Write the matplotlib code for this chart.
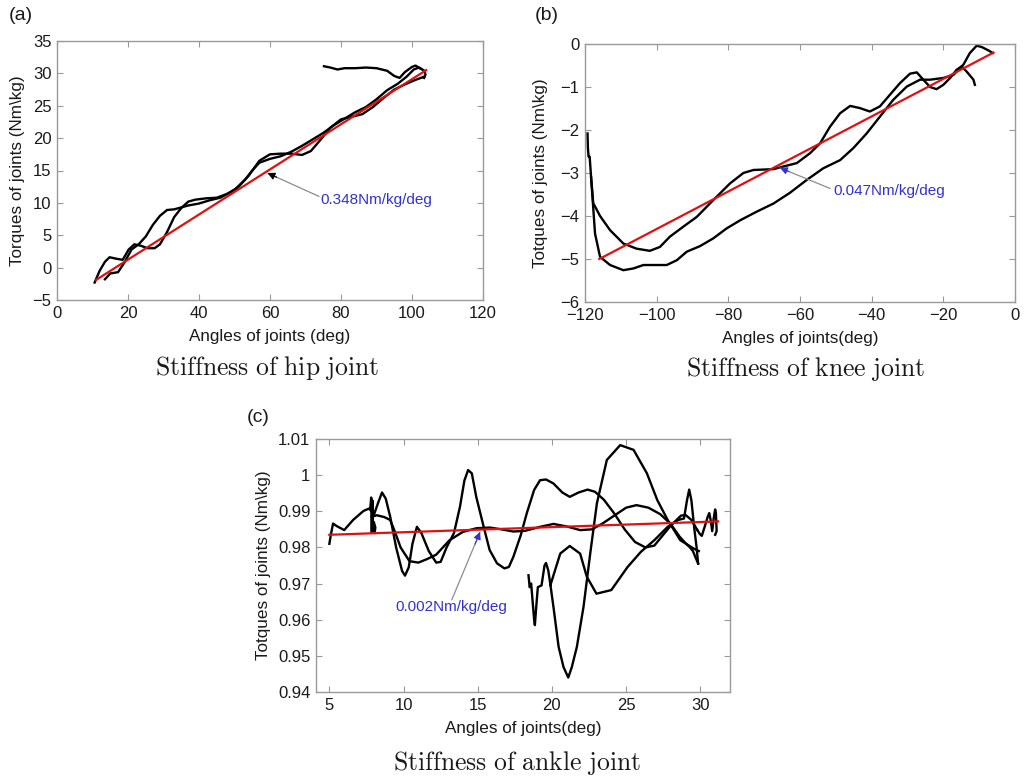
import matplotlib
matplotlib.use("Agg")
import matplotlib.pyplot as plt
from matplotlib.ticker import FuncFormatter

# ---- (a) hip joint: torque vs angle (two gait branches + top return) ----
hip_a_x = [10.6, 12, 13.5, 14.8, 16.5, 18.5, 20.2, 21.8, 23.5, 25.5, 27.5, 29, 31, 33, 35, 37, 39, 42, 45,
           48, 51, 54, 57, 60, 63, 66, 69, 71.5, 74, 77, 80, 83, 86, 89, 92, 95, 98, 101, 103.5]
hip_a_y = [-2.3, -0.5, 0.9, 1.6, 1.4, 1.2, 2.8, 3.6, 3.4, 3.0, 3.0, 3.6, 5.5, 7.8, 9.2, 10.2, 10.5, 10.7, 10.8,
           11.4, 12.4, 14.2, 16.5, 17.5, 17.6, 17.6, 17.4, 18.0, 19.6, 21.6, 22.9, 23.3, 23.7, 24.8, 26.2, 27.5,
           28.3, 29.0, 29.5]
hip_b_x = [13.5, 15, 17.2, 19, 21, 23, 25, 27, 29, 31, 33, 35, 37, 40, 43, 46, 50, 53, 55, 57, 60, 63, 66,
           69, 72, 75, 78, 81, 84, 87, 90, 93, 96, 98.5, 100.5, 102, 103.5, 103.8, 103.4]
hip_b_y = [-1.8, -0.9, -0.7, 0.8, 2.8, 3.6, 4.8, 6.6, 8.0, 8.9, 9.0, 9.3, 9.6, 9.9, 10.4, 10.8, 12.0, 13.6,
           15.0, 16.2, 16.8, 17.2, 17.9, 18.8, 19.8, 20.8, 22.0, 23.0, 24.0, 24.8, 26.0, 27.4, 28.4, 29.5,
           30.6, 30.9, 30.4, 29.8, 29.3]
hip_c_x = [102.5, 101, 100, 98, 96.5, 95, 93, 90, 87, 84, 81, 79, 77, 75.2]
hip_c_y = [30.7, 31.2, 31.0, 30.2, 29.3, 29.6, 30.4, 30.8, 30.9, 30.8, 30.8, 30.6, 30.9, 31.1]
hip_fit_x = [11, 104]
hip_fit_y = [-1.9, 30.5]

# ---- (b) knee joint ----
knee_a_x = [-119.3, -119.2, -119.0, -118.7, -118.3, -117.7, -115.8, -113, -109.3, -105.6, -101.9, -99.1,
            -96.3, -92.6, -88.8, -84.2, -79.5, -75.8, -73, -67.4, -64.7, -60.9, -57.2, -54.4, -51.6,
            -48.8, -46, -43.3, -40.5, -37.7, -34.9, -32.1, -29.3, -27.4, -25.6, -23.7, -21.9, -20,
            -18.1, -16.3, -14.9, -13.5, -11.6, -11.2]
knee_a_y = [-2.08, -2.4, -2.62, -2.62, -3.1, -3.7, -4.0, -4.33, -4.64, -4.76, -4.81, -4.72, -4.48, -4.25,
            -4.02, -3.63, -3.24, -3.0, -2.93, -2.91, -2.85, -2.77, -2.54, -2.31, -1.92, -1.61, -1.44,
            -1.49, -1.57, -1.45, -1.18, -0.91, -0.69, -0.66, -0.83, -1.0, -1.05, -0.95, -0.79, -0.6,
            -0.52, -0.64, -0.83, -0.95]
knee_b_x = [-118.3, -117.2, -115.8, -113, -109.3, -106.5, -103.7, -100.9, -97.2, -94.4, -91.6, -87.9,
            -84.2, -80.5, -76.7, -72.1, -67.4, -62.8, -58.1, -53.5, -48.8, -45.1, -41.4, -37.7, -34,
            -30.2, -26.5, -23.7, -20, -17.2, -14.4, -12.6, -10.7, -9.3, -7.4, -6.2]
knee_b_y = [-3.1, -4.41, -4.95, -5.14, -5.26, -5.22, -5.14, -5.14, -5.14, -5.03, -4.83, -4.70, -4.52,
            -4.29, -4.1, -3.9, -3.71, -3.46, -3.16, -2.89, -2.7, -2.42, -2.08, -1.69, -1.3, -0.99,
            -0.83, -0.83, -0.79, -0.72, -0.48, -0.21, -0.04, -0.07, -0.15, -0.21]
knee_fit_x = [-116, -6]
knee_fit_y = [-5.0, -0.2]

# ---- (c) ankle joint ----
ank_1_x = [5.0, 5.1, 5.25, 5.5, 6.0, 6.6, 7.3, 7.7, 8.0, 8.3, 8.55, 8.8, 9.1, 9.5, 9.9, 10.1, 10.35, 10.6,
           10.9, 11.2, 11.7, 12.2, 12.5, 12.9, 13.4, 13.8, 14.1, 14.35, 14.6, 14.9, 15.4, 15.8, 16.3,
           16.8, 17.1, 17.4, 17.9, 18.3, 18.8, 19.2, 19.6, 20.1, 20.7, 21.2, 21.8, 22.4, 22.9, 23.5,
           24.2, 24.9, 25.6, 26.3, 26.9, 27.4, 28.0, 28.7, 29.0, 29.4, 29.8]
ank_1_y = [0.981, 0.9835, 0.9866, 0.9859, 0.9848, 0.9876, 0.9901, 0.9908, 0.9890, 0.9925, 0.9952,
           0.9935, 0.9885, 0.9800, 0.9735, 0.9722, 0.9745, 0.9810, 0.9857, 0.9840, 0.9790, 0.9758,
           0.9760, 0.9800, 0.9840, 0.9912, 0.9985, 1.0014, 1.0005, 0.9940, 0.9857, 0.9793, 0.9756,
           0.9742, 0.9746, 0.9774, 0.9834, 0.9894, 0.9959, 0.9986, 0.9988, 0.9977, 0.9952, 0.9940,
           0.9952, 0.9960, 0.9954, 0.9932, 0.9894, 0.9850, 0.9815, 0.9800, 0.9805, 0.9830, 0.9860,
           0.9888, 0.9890, 0.9876, 0.9848]
ank_2_x = [7.85, 8.2, 8.7, 9.1, 9.45, 9.8, 10.4, 11.0, 11.6, 12.2, 13.1, 14.0, 14.9, 15.8, 16.6, 17.4,
           18.2, 19.2, 20.1, 21.0, 21.9, 22.7, 23.4, 24.2, 25.0, 25.7, 26.5, 27.3, 28.0, 28.6, 29.0,
           29.3, 29.5, 29.7, 29.85]
ank_2_y = [0.9885, 0.9889, 0.9884, 0.9876, 0.9840, 0.9800, 0.9762, 0.9758, 0.9768, 0.9780, 0.9820,
           0.9843, 0.9853, 0.9855, 0.9850, 0.9844, 0.9846, 0.9857, 0.9865, 0.9858, 0.9848, 0.9850,
           0.9866, 0.9888, 0.9910, 0.9917, 0.9910, 0.9892, 0.9865, 0.9830, 0.9812, 0.9800, 0.9790,
           0.9770, 0.9756]
ank_spike_x = [7.75, 7.82, 7.86, 7.9, 7.95, 8.0, 8.1, 8.05]
ank_spike_y = [0.9905, 0.9938, 0.9840, 0.9930, 0.9845, 0.9870, 0.9855, 0.9840]
ank_3_x = [18.42, 18.5, 18.6, 18.7, 18.8, 18.85, 18.95, 19.05, 19.3, 19.5, 19.6, 19.75, 19.9]
ank_3_y = [0.9723, 0.9690, 0.9700, 0.9650, 0.9600, 0.9585, 0.9640, 0.9690, 0.9695, 0.9750, 0.9757,
           0.9737, 0.9696]
ank_dip_x = [19.9, 20.1, 20.45, 20.78, 21.1, 21.34, 21.68, 22.13, 22.58, 23.03, 23.7, 24.6, 25.5, 26.4,
             27.1, 27.8, 28.65, 29.55, 29.9]
ank_dip_y = [0.9696, 0.9636, 0.9525, 0.9469, 0.9440, 0.9469, 0.9525, 0.9636, 0.9783, 0.9922, 1.0042,
             1.0083, 1.0070, 1.0005, 0.9931, 0.9876, 0.9820, 0.9797, 0.9790]
ank_hump_x = [19.9, 20.56, 21.2, 21.9, 22.35, 23.0, 24.0, 25.1, 26.0, 26.9, 27.8, 28.5, 28.9, 29.1,
              29.25, 29.4, 29.6, 29.75, 29.85]
ank_hump_y = [0.9696, 0.9783, 0.9804, 0.9783, 0.9719, 0.9672, 0.9682, 0.9746, 0.9788, 0.9820, 0.9857,
              0.9876, 0.9880, 0.9930, 0.9960, 0.9930, 0.9850, 0.9800, 0.9755]
ank_tail_x = [29.8, 29.95, 30.1, 30.3, 30.5, 30.6, 30.7, 30.8, 30.9, 31.0, 31.05, 31.1, 31.0]
ank_tail_y = [0.9848, 0.9838, 0.9832, 0.9858, 0.9885, 0.9895, 0.9875, 0.9845, 0.9880, 0.9905, 0.9895,
              0.9845, 0.9835]
ank_fit_x = [5.0, 31.2]
ank_fit_y = [0.9835, 0.9872]

plt.rcParams["font.family"] = ["Liberation Sans", "DejaVu Sans"]
plt.rcParams["mathtext.fontset"] = "cm"

FRAME = "#9a9a9a"
INK = "#1a1a1a"
BLUE = "#3232d2"


def style_axes(ax):
    for s in ax.spines.values():
        s.set_color(FRAME)
        s.set_linewidth(1.0)
    ax.tick_params(direction="in", top=True, right=True, length=4, width=0.8,
                   color=FRAME, labelsize=12, labelcolor=INK, pad=4)


def slope_note(ax, text, tip, start, text_xy, head, ha="left", va="center"):
    ax.annotate("", xy=tip, xytext=start,
                arrowprops=dict(arrowstyle="-", color="#8c8c8c", lw=0.9, shrinkA=0, shrinkB=0))
    back = (tip[0] + 0.18 * (start[0] - tip[0]), tip[1] + 0.18 * (start[1] - tip[1]))
    ax.annotate("", xy=tip, xytext=back,
                arrowprops=dict(arrowstyle="-|>", color=head, lw=0.8, mutation_scale=11,
                                shrinkA=0, shrinkB=0))
    ax.text(text_xy[0], text_xy[1], text, color=BLUE, fontsize=11, ha=ha, va=va)


W, H = 1030, 778
fig = plt.figure(figsize=(W / 100, H / 100), dpi=100)

ax_a = fig.add_axes([57 / W, 1 - 300 / H, 426 / W, 259 / H])
ax_b = fig.add_axes([585 / W, 1 - 302 / H, 430 / W, 258 / H])
ax_c = fig.add_axes([316 / W, 1 - 692 / H, 414 / W, 253 / H])

line_kw = dict(color="black", lw=1.7)
fit_kw = dict(color="#e01010", lw=1.6)

# (a)
ax_a.plot(hip_a_x, hip_a_y, **line_kw)
ax_a.plot(hip_b_x, hip_b_y, **line_kw)
ax_a.plot(hip_c_x, hip_c_y, **line_kw)
ax_a.plot(hip_fit_x, hip_fit_y, **fit_kw)
ax_a.set_xlim(0, 120)
ax_a.set_ylim(-5, 35)
ax_a.set_xticks(range(0, 121, 20))
ax_a.set_yticks(range(-5, 36, 5))
ax_a.set_xlabel("Angles of joints (deg)", fontsize=12.3, color=INK, labelpad=6)
ax_a.set_ylabel("Torques of joints (Nm\\kg)", fontsize=12.3, color=INK, labelpad=5)
slope_note(ax_a, "0.348Nm/kg/deg", (59.3, 14.6), (73.8, 11.0), (74.3, 10.5), "black")
style_axes(ax_a)

# (b)
ax_b.plot(knee_a_x, knee_a_y, **line_kw)
ax_b.plot(knee_b_x, knee_b_y, **line_kw)
ax_b.plot(knee_fit_x, knee_fit_y, **fit_kw)
ax_b.set_xlim(-120, 0)
ax_b.set_ylim(-6, 0)
ax_b.set_xticks(range(-120, 1, 20))
ax_b.set_yticks(range(-6, 1, 1))
ax_b.set_xlabel("Angles of joints(deg)", fontsize=12.3, color=INK, labelpad=6)
ax_b.set_ylabel("Totques of joints (Nm\\kg)", fontsize=12.3, color=INK, labelpad=9)
slope_note(ax_b, "0.047Nm/kg/deg", (-65.6, -2.88), (-51.6, -3.36), (-50.8, -3.41), BLUE)
style_axes(ax_b)

# (c)
for xs, ys in [(ank_1_x, ank_1_y), (ank_2_x, ank_2_y), (ank_spike_x, ank_spike_y),
               (ank_3_x, ank_3_y), (ank_dip_x, ank_dip_y), (ank_hump_x, ank_hump_y),
               (ank_tail_x, ank_tail_y)]:
    ax_c.plot(xs, ys, **line_kw)
ax_c.plot(ank_fit_x, ank_fit_y, **fit_kw)
ax_c.set_xlim(4.1, 32.0)
ax_c.set_ylim(0.94, 1.01)
ax_c.set_xticks(range(5, 31, 5))
ax_c.set_yticks([0.94, 0.95, 0.96, 0.97, 0.98, 0.99, 1.0, 1.01])
ax_c.yaxis.set_major_formatter(FuncFormatter(lambda v, p: f"{v:g}"))
ax_c.set_xlabel("Angles of joints(deg)", fontsize=12.3, color=INK, labelpad=6)
ax_c.set_ylabel("Totques of joints (Nm\\kg)", fontsize=12.3, color=INK, labelpad=5)
slope_note(ax_c, "0.002Nm/kg/deg", (15.16, 0.9843), (13.25, 0.9655), (13.25, 0.9636), BLUE,
           ha="center", va="center")
style_axes(ax_c)

# panel letters and captions
fig.text(9 / W, 1 - 15 / H, "(a)", fontsize=14, color=INK, va="center")
fig.text(535 / W, 1 - 15 / H, "(b)", fontsize=14, color=INK, va="center")
fig.text(247 / W, 1 - 418 / H, "(c)", fontsize=14, color=INK, va="center")
fig.text(267 / W, 1 - 368 / H, r"$\mathrm{Stiffness\ of\ hip\ joint}$", fontsize=18.5,
         ha="center", va="center", color=INK)
fig.text(806 / W, 1 - 369 / H, r"$\mathrm{Stiffness\ of\ knee\ joint}$", fontsize=18.5,
         ha="center", va="center", color=INK)
fig.text(517 / W, 1 - 763 / H, r"$\mathrm{Stiffness\ of\ ankle\ joint}$", fontsize=18.5,
         ha="center", va="center", color=INK)

fig.savefig("out.png", dpi=100, facecolor="white")
